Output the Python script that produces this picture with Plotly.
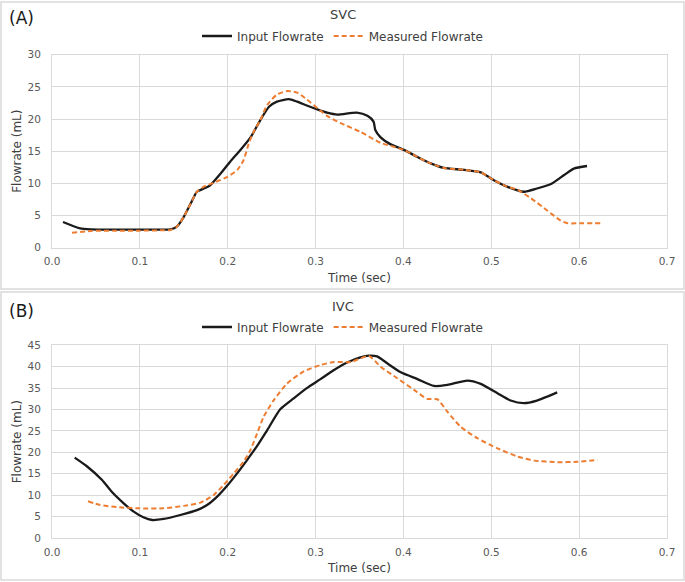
import plotly.graph_objects as go

# ---------------- data ----------------
svc_input_t = [0.0125, 0.032, 0.044, 0.07, 0.1, 0.125, 0.135, 0.142, 0.15, 0.158, 0.165, 0.173, 0.180,
               0.192, 0.203, 0.2145, 0.226, 0.237, 0.247, 0.256, 0.2695, 0.279, 0.29, 0.302, 0.313, 0.325,
               0.347, 0.359, 0.366, 0.368, 0.374, 0.385, 0.4005, 0.416, 0.431, 0.446, 0.469, 0.488, 0.503,
               0.518, 0.537, 0.552, 0.568, 0.583, 0.594, 0.609]
svc_input_v = [3.99, 3.0, 2.85, 2.8, 2.8, 2.8, 2.85, 3.26, 4.8, 6.9, 8.7, 9.2, 9.7,
               11.55, 13.4, 15.2, 17.15, 19.8, 21.9, 22.7, 23.1, 22.7, 22.1, 21.5, 21.0, 20.7,
               21.0, 20.5, 19.6, 18.3, 17.15, 16.1, 15.2, 14.1, 13.1, 12.4, 12.1, 11.7, 10.5,
               9.5, 8.7, 9.2, 9.9, 11.3, 12.3, 12.7]

svc_meas_t = [0.0228, 0.044, 0.07, 0.1, 0.125, 0.135, 0.142, 0.15, 0.158, 0.165, 0.173, 0.184, 0.1995,
              0.211, 0.218, 0.224, 0.2295, 0.237, 0.245, 0.256, 0.2675, 0.279, 0.29, 0.302, 0.313, 0.328,
              0.351, 0.374, 0.389, 0.4005, 0.416, 0.431, 0.446, 0.469, 0.488, 0.503, 0.518, 0.53, 0.545,
              0.564, 0.579, 0.587, 0.6, 0.624]
svc_meas_v = [2.33, 2.6, 2.62, 2.65, 2.7, 2.75, 3.26, 4.8, 6.9, 8.7, 9.5, 10.1, 11.0,
              12.1, 13.6, 16.2, 18.0, 19.8, 22.2, 23.8, 24.35, 24.1, 23.05, 21.7, 20.5, 19.4,
              18.0, 16.3, 15.7, 15.2, 14.1, 13.1, 12.4, 12.1, 11.7, 10.5, 9.5, 9.0, 7.7,
              5.75, 4.2, 3.8, 3.8, 3.8]

ivc_input_t = [0.0258, 0.04, 0.057, 0.068, 0.0816, 0.093, 0.104, 0.114, 0.127, 0.146, 0.165, 0.1765,
               0.188, 0.1993, 0.2107, 0.222, 0.2335, 0.245, 0.26, 0.275, 0.29, 0.3056, 0.321, 0.336,
               0.351, 0.3607, 0.370, 0.3815, 0.397, 0.416, 0.4347, 0.45, 0.4727, 0.488, 0.507, 0.522,
               0.537, 0.552, 0.575]
ivc_input_v = [18.77, 16.7, 13.55, 10.8, 8.1, 6.15, 4.83, 4.2, 4.44, 5.37, 6.5, 7.7,
               9.66, 12.2, 15.1, 18.2, 21.5, 25.2, 30.1, 32.6, 35.0, 37.1, 39.25, 41.0,
               42.2, 42.6, 42.4, 40.8, 38.7, 37.1, 35.5, 35.75, 36.76, 36.0, 33.8, 32.1,
               31.5, 32.1, 34.0]

ivc_meas_t = [0.041, 0.055, 0.074, 0.1, 0.127, 0.15, 0.169, 0.184, 0.1955, 0.207, 0.218, 0.226, 0.2335,
              0.241, 0.2525, 0.2677, 0.2866, 0.3056, 0.321, 0.34, 0.3607, 0.374, 0.393, 0.412, 0.427,
              0.4385, 0.45, 0.465, 0.484, 0.507, 0.53, 0.549, 0.575, 0.598, 0.621]
ivc_meas_v = [8.57, 7.7, 7.2, 6.93, 6.93, 7.5, 8.25, 10.05, 12.4, 15.1, 17.8, 20.6, 24.45,
              28.35, 32.2, 36.1, 38.9, 40.4, 41.1, 41.1, 42.5, 40.0, 37.3, 34.6, 32.5,
              32.4, 29.5, 26.0, 23.3, 20.95, 19.0, 18.07, 17.7, 17.8, 18.2]

x_ticks = [0.0, 0.1, 0.2, 0.3, 0.4, 0.5, 0.6, 0.7]
svc_yticks = [0, 5, 10, 15, 20, 25, 30]
ivc_yticks = [0, 5, 10, 15, 20, 25, 30, 35, 40, 45]

series_names = ["Input Flowrate", "Measured Flowrate"]
panel_labels = ["(A)", "(B)"]
panel_titles = ["SVC", "IVC"]

# ---------------- figure ----------------
W, H = 685, 582
FONT = "DejaVu Sans, Liberation Sans, Arial, sans-serif"
BLACK = "#1a1a1a"
ORANGE = "#ED7D31"
GRID = "#d9d9d9"
TXT = "#595959"
DASH = "5px,3px"


def py(px):
    return 1 - px / H


fig = go.Figure()

spline = dict(shape="spline", smoothing=0.6)

fig.add_trace(go.Scatter(x=svc_input_t, y=svc_input_v, mode="lines", name=series_names[0],
                         line=dict(color=BLACK, width=2.3, **spline), xaxis="x", yaxis="y",
                         legend="legend"))
fig.add_trace(go.Scatter(x=svc_meas_t, y=svc_meas_v, mode="lines", name=series_names[1],
                         line=dict(color=ORANGE, width=2.0, dash=DASH, **spline), xaxis="x", yaxis="y",
                         legend="legend"))
fig.add_trace(go.Scatter(x=ivc_input_t, y=ivc_input_v, mode="lines", name=series_names[0],
                         line=dict(color=BLACK, width=2.3, **spline), xaxis="x2", yaxis="y2",
                         legend="legend2"))
fig.add_trace(go.Scatter(x=ivc_meas_t, y=ivc_meas_v, mode="lines", name=series_names[1],
                         line=dict(color=ORANGE, width=2.0, dash=DASH, **spline), xaxis="x2", yaxis="y2",
                         legend="legend2"))

x_dom = [52 / W, 667 / W]

xaxis_common = dict(
    range=[0, 0.7], tickvals=x_ticks, tickformat=".1f", showgrid=True, gridcolor=GRID, gridwidth=1,
    showline=True, linecolor=GRID, linewidth=1, mirror=True, zeroline=False, ticks="",
    tickfont=dict(family=FONT, size=10.5, color=TXT), ticklabelstandoff=4, automargin=False,
    title=dict(text="Time (sec)", font=dict(family=FONT, size=12, color="#404040"), standoff=7),
    fixedrange=True,
)
yaxis_common = dict(
    showgrid=True, gridcolor=GRID, gridwidth=1, showline=True, linecolor=GRID, linewidth=1,
    mirror=True, zeroline=False, ticks="", tickfont=dict(family=FONT, size=10.5, color=TXT),
    ticklabelstandoff=8, automargin=False,
    title=dict(text="Flowrate (mL)", font=dict(family=FONT, size=12, color="#404040"), standoff=3),
    fixedrange=True,
)

legend_common = dict(orientation="h", xanchor="center", x=0.5, yanchor="middle",
                     font=dict(family=FONT, size=12, color="#404040"), bgcolor="rgba(0,0,0,0)",
                     itemwidth=30, tracegroupgap=0)

fig.update_layout(
    width=W, height=H, autosize=False,
    margin=dict(l=0, r=0, t=0, b=0, autoexpand=False),
    paper_bgcolor="white", plot_bgcolor="white",
    font=dict(family=FONT, color="#404040"),
    xaxis=dict(domain=x_dom, anchor="y", **xaxis_common),
    yaxis=dict(domain=[py(247.7), py(54.7)], anchor="x", range=[0, 30], tickvals=svc_yticks, **yaxis_common),
    xaxis2=dict(domain=x_dom, anchor="y2", **xaxis_common),
    yaxis2=dict(domain=[py(538), py(345.3)], anchor="x2", range=[0, 45], tickvals=ivc_yticks, **yaxis_common),
    legend=dict(y=py(36), **legend_common),
    legend2=dict(y=py(327), **legend_common),
    showlegend=True,
)

# panel borders
for y0, y1 in [(2, 289), (292, 580)]:
    fig.add_shape(type="rect", xref="paper", yref="paper", x0=1 / W, x1=1 - 1 / W,
                  y0=py(y1), y1=py(y0), line=dict(color=GRID, width=1.5), fillcolor="rgba(0,0,0,0)",
                  layer="below")

# panel labels and titles
for label, title, ly, ty in [(panel_labels[0], panel_titles[0], 18, 14),
                             (panel_labels[1], panel_titles[1], 311, 306)]:
    fig.add_annotation(text=label, xref="paper", yref="paper", x=7 / W, y=py(ly), xanchor="left",
                       yanchor="middle", showarrow=False, font=dict(family=FONT, size=17, color="#1a1a1a"))
    fig.add_annotation(text=title, xref="paper", yref="paper", x=0.5, y=py(ty), xanchor="center",
                       yanchor="middle", showarrow=False, font=dict(family=FONT, size=13, color="#404040"))

fig.write_html("out.html", config={"displayModeBar": False},
               post_script="document.body.style.margin='0';document.body.style.overflow='hidden';")
